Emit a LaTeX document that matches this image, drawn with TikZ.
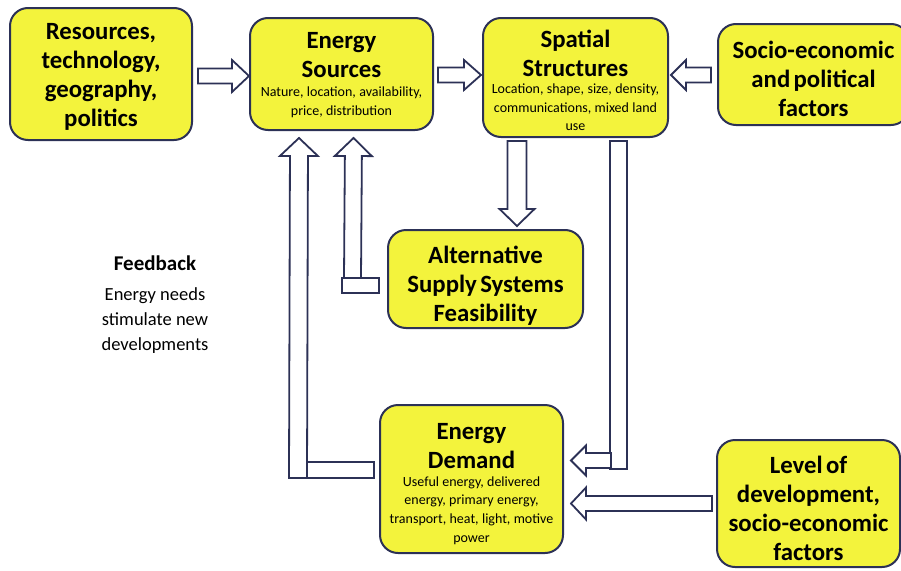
\documentclass[tikz,border=0pt]{standalone}
\usepackage{fontspec}
\setmainfont{Carlito}
\usetikzlibrary{calc}
\definecolor{boxyellow}{RGB}{243,243,60}
\definecolor{navy}{RGB}{44,49,86}
\newcommand\titlef{\bfseries\fontsize{24.8}{29}\selectfont}
\newcommand\subf{\fontsize{14}{18.7}\selectfont}
\newcommand\dnshift[1]{\par\kern-#1\relax}
\newcommand\blk[5]{%
  \coordinate (bA) at (#1);
  \coordinate (bB) at (#2);
  \coordinate (bH) at ($(bB)!#5!(bA)$);
  \draw[blkarrow] ($(bA)!#3!90:(bB)$) -- ($(bH)!#3!90:(bB)$) -- ($(bH)!#4!90:(bB)$) -- (bB)
     -- ($(bH)!#4!-90:(bB)$) -- ($(bH)!#3!-90:(bB)$) -- ($(bA)!#3!-90:(bB)$) -- cycle;
}
\tikzset{
  box/.style={draw=navy, line width=2pt, fill=boxyellow, rounded corners=18pt,
     inner sep=0pt, align=center, text width=#1},
  box/.default=176pt,
  blkarrow/.style={draw=navy, line width=1.8pt, fill=white, line join=miter},
  stub/.style={draw=navy, line width=1.8pt, fill=white},
}
\begin{document}
\begin{tikzpicture}[x=1pt,y=-1pt]
\useasboundingbox (0,0) rectangle (901,570);
\clip (0,0) rectangle (901,570);

\node[box, minimum width=182pt, minimum height=132pt] (res) at (101,74)
  {\titlef Resources,\\technology,\\geography,\\politics\dnshift{5pt}};
\node[box, minimum width=183pt, minimum height=112pt] (src) at (341.5,74)
  {{\titlef Energy\\Sources\par}\vspace{0pt}{\subf Nature, location, availability,\\price, distribution\par}\dnshift{2pt}};
\node[box, minimum width=185pt, minimum height=119pt] (sp) at (575.5,77.5)
  {{\titlef Spatial\\Structures\par}\vspace{-1.5pt}{\subf Location, shape, size, density,\\communications, mixed land\\use\par}\dnshift{6pt}};
\node[box, minimum width=191pt, minimum height=101pt] (soc) at (813.5,74.5)
  {\titlef Socio-economic\\and political\\factors\dnshift{9pt}};
\node[box, minimum width=195pt, minimum height=98pt] (alt) at (485.5,279)
  {\titlef Alternative\\Supply Systems\\Feasibility\dnshift{13pt}};
\node[box, minimum width=183pt, minimum height=148pt] (dem) at (471.5,479)
  {{\titlef Energy\\Demand\par}\vspace{-1pt}{\subf Useful energy, delivered\\energy, primary energy,\\transport, heat, light, motive\\power\par}\dnshift{10pt}};
\node[box, minimum width=183pt, minimum height=127pt] (lev) at (808.5,503.5)
  {\titlef Level of\\development,\\socio-economic\\factors\dnshift{9pt}};

\node[font=\bfseries\fontsize{21}{25}\selectfont] (fb) at (155,263) {Feedback};
\node[font=\fontsize{18.5}{25}\selectfont, align=center, anchor=north] (fbt) at (155,284)
  {Energy needs\\stimulate new\\developments};

% straight block arrows
\blk{$(res.east)+(5,2)$}{$(src.west)+(0,2)$}{7.5pt}{16pt}{17pt}
\blk{$(src.east)+(4,1)$}{$(sp.west)+(-1,-2.5)$}{7.5pt}{15pt}{17pt}
\blk{$(soc.west)+(-6,0.5)$}{$(sp.east)+(2,-2.5)$}{7.5pt}{15pt}{15pt}
\blk{$(sp.south)+(-58.5,3)$}{$(alt.north)+(31.5,-3)$}{9.5pt}{17.5pt}{17pt}
\blk{$(lev.west)+(-4,0)$}{$(dem.east)+(7,24.5)$}{7.5pt}{16pt}{15pt}

% alternative -> energy sources (elbow)
\draw[stub] ($(alt.west)+(-45,-1)$) rectangle ($(alt.west)+(-8,14)$);
\blk{$(alt.west)+(-34.5,-1)$}{$(src.south)+(12,7)$}{8.5pt}{18.5pt}{18pt}

% demand -> energy sources (feedback elbow)
\draw[stub] ($(dem.west)+(-72,-17)$) rectangle ($(dem.west)+(-5,-1)$);
\blk{$(dem.west)+(-81,-1)$}{$(src.south)+(-42.5,7)$}{9pt}{19pt}{18pt}

% spatial -> demand (elbow)
\draw[stub] ($(sp.south)+(34.5,3)$) rectangle ($(sp.south)+(51.5,331)$);
\blk{$(dem.east)+(47,-18.5)$}{$(dem.east)+(7,-18.5)$}{7.5pt}{15pt}{15pt}
\end{tikzpicture}
\end{document}
